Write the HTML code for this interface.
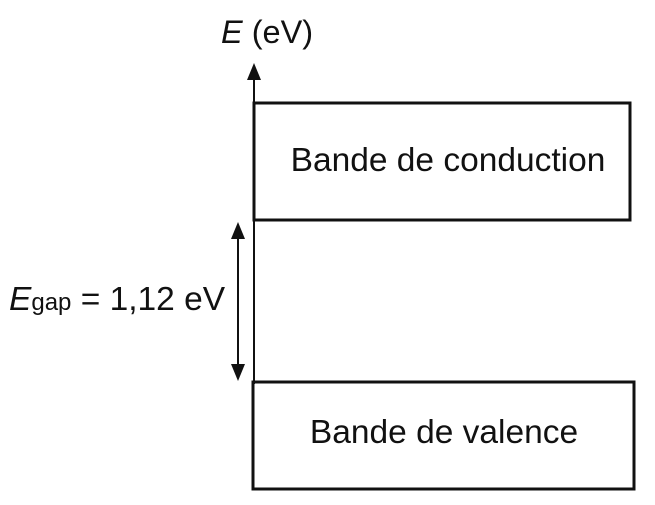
<!DOCTYPE html>
<html><head><style>body{margin:0;background:#fff}svg{display:block}</style></head><body>
<svg width="655" height="505" xmlns="http://www.w3.org/2000/svg" font-family="Liberation Sans, Arial, sans-serif" fill="#111">
<rect width="655" height="505" fill="#fff"/>
<text x="221" y="43" font-size="32.5"><tspan font-style="italic">E</tspan> (eV)</text>
<line x1="254" y1="78" x2="254" y2="384" stroke="#111" stroke-width="2"/>
<polygon points="254,63 247,80 261,80" fill="#111"/>
<rect x="254" y="103" width="376" height="117" fill="none" stroke="#111" stroke-width="3"/>
<text x="448" y="171" font-size="33.5" text-anchor="middle">Bande de conduction</text>
<rect x="253" y="382" width="381" height="107" fill="none" stroke="#111" stroke-width="3"/>
<text x="444" y="443" font-size="33.5" text-anchor="middle">Bande de valence</text>
<line x1="238" y1="234" x2="238" y2="368" stroke="#111" stroke-width="2"/>
<polygon points="238,222 231,239 245,239" fill="#111"/>
<polygon points="238,381 231,364 245,364" fill="#111"/>
<text x="9" y="310" font-size="33.5"><tspan font-style="italic">E</tspan><tspan font-size="24">gap</tspan> = 1,12 eV</text>
</svg>
</body></html>
